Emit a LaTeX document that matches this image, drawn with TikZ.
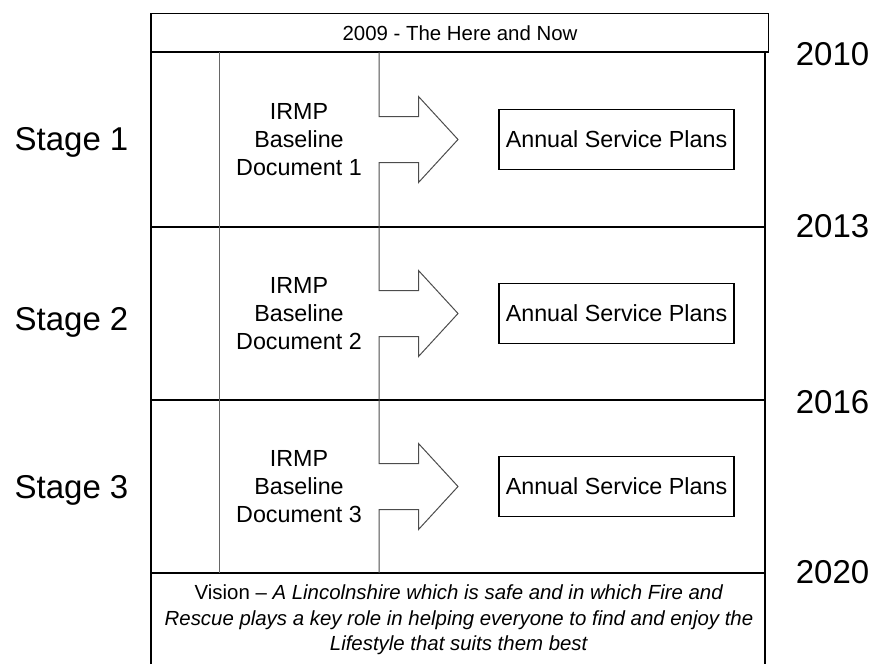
\documentclass[tikz,border=0pt]{standalone}
\usepackage{fontspec}
\setmainfont{Liberation Sans}
\usetikzlibrary{positioning}
\tikzstyle{frame} = [
    draw=black,
    line width=1.4pt
]
\tikzstyle{column} = [
    draw=black!60,
    line width=1pt
]
\tikzstyle{blockarrow} = [
    draw=black!70,
    line width=1pt,
    line join=miter
]
\tikzstyle{plans} = [
    rectangle,
    minimum width=235pt,
    minimum height=60pt,
    inner sep=2pt,
    draw=black,
    line width=1.4pt,
    font=\fontsize{23.3}{28}\selectfont
]
\tikzstyle{irmpdoc} = [
    align=center,
    font=\fontsize{23.3}{28}\selectfont
]
\tikzstyle{stagelabel} = [
    anchor=base,
    inner sep=0pt,
    font=\fontsize{33}{40}\selectfont
]
\tikzstyle{yearlabel} = [
    anchor=base,
    inner sep=0pt,
    font=\fontsize{33}{40}\selectfont
]
\tikzstyle{banner} = [
    align=center,
    font=\fontsize{20.4}{25.5}\selectfont
]

\begin{document}
\begin{tikzpicture}[x=1pt, y=-1pt]

\useasboundingbox (0,0) rectangle (874,664);

\node (now) [banner] at (460,33) {2009 - The Here and Now};

\draw [frame] (151,13.5) rectangle (768.5,52);
\draw [frame] (151,664) -- (151,52) -- (765,52) -- (765,664);
\draw [frame] (151,227) -- (765,227);
\draw [frame] (151,400) -- (765,400);
\draw [frame] (151,573) -- (765,573);

\draw [column] (219,52) -- (219,573);

\draw [blockarrow] (379,52) -- (379,116.5) -- (418.5,116.5) -- (418.5,96.5)
    -- (458,139.5) -- (418.5,182.5) -- (418.5,162.5) -- (379,162.5) -- (379,227);
\draw [blockarrow] (379,227) -- (379,290.5) -- (418.5,290.5) -- (418.5,270.5)
    -- (458,313.5) -- (418.5,356.5) -- (418.5,336.5) -- (379,336.5) -- (379,400);
\draw [blockarrow] (379,400) -- (379,463.5) -- (418.5,463.5) -- (418.5,443.5)
    -- (458,486.5) -- (418.5,529.5) -- (418.5,509.5) -- (379,509.5) -- (379,573);

\node (stage1) [stagelabel] at (71.5,150) {Stage 1};
\node (doc1) [irmpdoc] at (299,139.5) {IRMP\\Baseline\\Document 1};
\node (plans1) [plans] at (616.5,139.5) {Annual Service Plans};

\node (stage2) [stagelabel] at (71.5,330) {Stage 2};
\node (doc2) [irmpdoc] at (299,313.5) {IRMP\\Baseline\\Document 2};
\node (plans2) [plans] at (616.5,313.5) {Annual Service Plans};

\node (stage3) [stagelabel] at (71.5,498) {Stage 3};
\node (doc3) [irmpdoc] at (299,486.5) {IRMP\\Baseline\\Document 3};
\node (plans3) [plans] at (616.5,486.5) {Annual Service Plans};

\node (y2010) [yearlabel] at (832.5,65) {2010};
\node (y2013) [yearlabel] at (832.5,237) {2013};
\node (y2016) [yearlabel] at (832.5,413) {2016};
\node (y2020) [yearlabel] at (832.5,583) {2020};

\node (vision) [banner] at (459,620)
{Vision – \textit{A Lincolnshire which is safe and in which Fire and}\\
\textit{Rescue plays a key role in helping everyone to find and enjoy the}\\
\textit{Lifestyle that suits them best}};

\end{tikzpicture}
\end{document}
